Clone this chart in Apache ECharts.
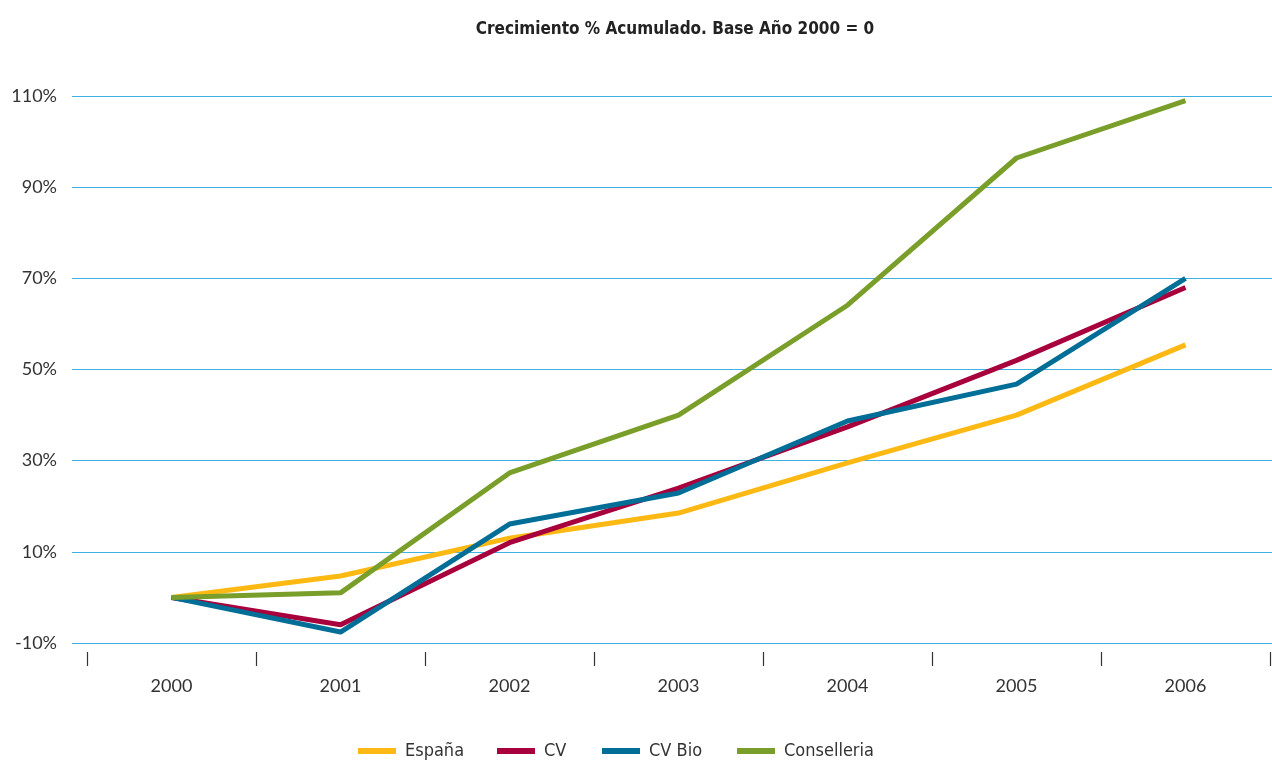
<!DOCTYPE html>
<html><head><meta charset="utf-8">
<script src="https://cdn.jsdelivr.net/npm/echarts@6/dist/echarts.min.js"></script>
<style>html,body{margin:0;padding:0;background:#fff}#c{width:1272px;height:760px}</style>
</head><body><div id="c"></div>
<script>
const years = ['2000','2001','2002','2003','2004','2005','2006'];
const espana = [0, 4.7, 13, 18.5, 29.5, 40, 55.4];
const cv = [0, -6, 12, 24, 37.4, 52, 68];
const cvBio = [0, -7.6, 16.1, 22.9, 38.7, 46.8, 70];
const conselleria = [0, 1, 27.3, 40, 64.1, 96.4, 109];
const seriesNames = ['España', 'CV', 'CV Bio', 'Conselleria'];
const yTicks = {min: -10, max: 110, interval: 20};

const condensed = "'Liberation Sans Narrow', 'DejaVu Sans Condensed', sans-serif";
const chart = echarts.init(document.getElementById('c'), null, {renderer: 'canvas'});
const mk = (name, data, color) => ({
  name, type: 'line', data, xAxisIndex: 1, yAxisIndex: 1,
  symbol: 'none', lineStyle: {color, width: 5}, itemStyle: {color}
});
const legendLefts = [353, 492, 597, 732];
chart.setOption({
  animation: false,
  title: {text: 'Crecimiento % Acumulado. Base Año 2000 = 0', left: 670, textAlign: 'center', top: 16,
    textStyle: {fontFamily: condensed, fontWeight: 'bold', fontSize: 17, color: '#222'}},
  legend: seriesNames.map((n, i) => ({
    data: [n], left: legendLefts[i], top: 737, itemWidth: 38, itemHeight: 6, icon: 'rect',
    textStyle: {fontFamily: condensed, fontSize: 18, color: '#333', padding: [0,0,0,4]}
  })),
  grid: [
    {left: 72, right: 0, top: 96, bottom: 117},
    {left: 87, right: 2, top: 96, bottom: 117}
  ],
  xAxis: [
    {gridIndex: 0, type: 'value', show: false, min: 0, max: 1},
    {gridIndex: 1, type: 'category', data: years, boundaryGap: true, offset: 9,
      axisLine: {show: false, onZero: false}, axisTick: {show: true, length: 14, lineStyle: {color: '#333', width: 1.2}},
      axisLabel: {margin: 25, fontFamily: 'Lato', fontSize: 18, color: '#333'}}
  ],
  yAxis: [
    {gridIndex: 0, type: 'value', min: yTicks.min, max: yTicks.max, interval: yTicks.interval,
      axisLine: {show: false}, axisTick: {show: false},
      axisLabel: {margin: 15, fontFamily: 'Lato', fontSize: 18, color: '#333', formatter: '{value}%'},
      splitLine: {lineStyle: {color: '#3fb2e2', width: 1.2}}},
    {gridIndex: 1, type: 'value', min: yTicks.min, max: yTicks.max, interval: yTicks.interval, show: false,
      splitLine: {show: false}}
  ],
  series: [
    mk(seriesNames[0], espana, '#FDB913'),
    mk(seriesNames[1], cv, '#A8003C'),
    mk(seriesNames[2], cvBio, '#006E96'),
    mk(seriesNames[3], conselleria, '#7A9E2A')
  ]
});
</script></body></html>
